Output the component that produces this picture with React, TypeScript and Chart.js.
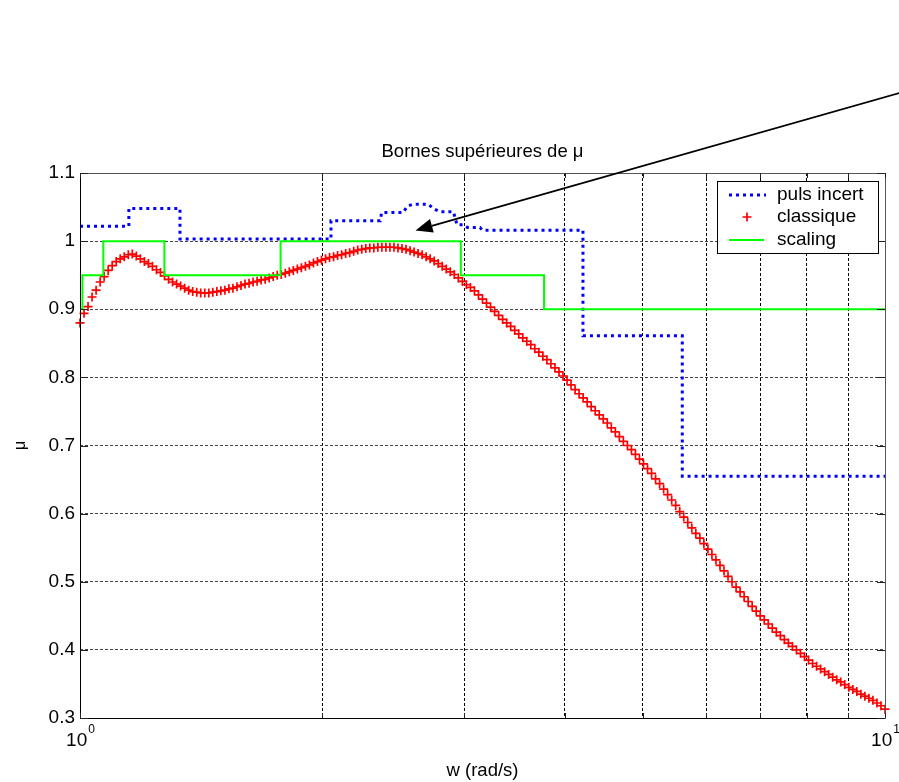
import React, { useEffect, useRef } from 'react';
import { Chart, registerables } from 'chart.js';

Chart.register(...registerables);

const FONT = '"Liberation Sans", Arial, Helvetica, sans-serif';

const titleText = 'Bornes supérieures de μ';
const xAxisLabel = 'w (rad/s)';
const yAxisLabel = 'μ';
const legendLabels = ['puls incert', 'classique', 'scaling'];

const yTickValues = [0.3, 0.4, 0.5, 0.6, 0.7, 0.8, 0.9, 1.0, 1.1];
const yTickLabels = ['0.3', '0.4', '0.5', '0.6', '0.7', '0.8', '0.9', '1', '1.1'];
const xGridValues = [1, 2, 3, 4, 5, 6, 7, 8, 9, 10];
const xTickValues = [1, 10];
const xTickBase = ['10', '10'];
const xTickExp = ['0', '1'];

// "puls incert" (staircase)
const pulsW = [1, 1.15, 1.15, 1.331, 1.331, 2.05, 2.05, 2.36, 2.37, 2.52, 2.55, 2.59, 2.71, 2.745, 2.80, 2.91, 2.94, 2.99, 3.03, 3.14, 3.16, 4.215, 4.215, 5.60, 5.60, 10];
const pulsMu = [1.022, 1.022, 1.048, 1.048, 1.003, 1.003, 1.030, 1.030, 1.042, 1.042, 1.051, 1.054, 1.054, 1.048, 1.043, 1.043, 1.024, 1.024, 1.020, 1.020, 1.016, 1.016, 0.861, 0.861, 0.655, 0.655];

// "scaling" (staircase)
const scalingW = [1, 1.007, 1.007, 1.069, 1.069, 1.273, 1.273, 1.775, 1.775, 2.972, 2.972, 3.771, 3.771, 10];
const scalingMu = [0.9, 0.9, 0.95, 0.95, 1.0, 1.0, 0.95, 0.95, 1.0, 1.0, 0.95, 0.95, 0.9, 0.9];

// "classique" values read on a log-spaced frequency grid from 1 to 10 rad/s
const classiqueMu = [
  0.880, 0.894, 0.904, 0.918, 0.928, 0.940, 0.948, 0.957, 0.964, 0.970,
  0.974, 0.977, 0.980, 0.981, 0.978, 0.974, 0.970, 0.967, 0.963, 0.958,
  0.954, 0.949, 0.944, 0.940, 0.937, 0.934, 0.931, 0.928, 0.926, 0.925,
  0.924, 0.924, 0.924, 0.925, 0.926, 0.927, 0.928, 0.930, 0.931, 0.933,
  0.935, 0.937, 0.938, 0.940, 0.941, 0.943, 0.944, 0.946, 0.948, 0.950,
  0.951, 0.953, 0.955, 0.957, 0.959, 0.961, 0.963, 0.965, 0.968, 0.970,
  0.972, 0.974, 0.976, 0.977, 0.979, 0.980, 0.982, 0.983, 0.985, 0.987,
  0.988, 0.989, 0.990, 0.990, 0.991, 0.991, 0.991, 0.991, 0.991, 0.990,
  0.989, 0.988, 0.986, 0.984, 0.982, 0.980, 0.977, 0.974, 0.971, 0.967,
  0.963, 0.959, 0.955, 0.951, 0.946, 0.941, 0.936, 0.932, 0.927, 0.921,
  0.915, 0.909, 0.903, 0.897, 0.891, 0.885, 0.880, 0.875, 0.869, 0.864,
  0.858, 0.853, 0.848, 0.842, 0.837, 0.831, 0.826, 0.820, 0.814, 0.808,
  0.802, 0.796, 0.789, 0.782, 0.776, 0.770, 0.764, 0.757, 0.751, 0.745,
  0.739, 0.733, 0.726, 0.720, 0.713, 0.706, 0.700, 0.694, 0.687, 0.680,
  0.673, 0.666, 0.659, 0.651, 0.644, 0.636, 0.628, 0.620, 0.612, 0.603,
  0.595, 0.587, 0.579, 0.571, 0.564, 0.556, 0.548, 0.540, 0.532, 0.524,
  0.516, 0.508, 0.500, 0.492, 0.485, 0.478, 0.471, 0.464, 0.457, 0.450,
  0.444, 0.438, 0.432, 0.426, 0.421, 0.415, 0.410, 0.405, 0.400, 0.395,
  0.390, 0.385, 0.380, 0.376, 0.372, 0.368, 0.364, 0.360, 0.356, 0.353,
  0.349, 0.345, 0.342, 0.339, 0.335, 0.332, 0.329, 0.326, 0.322, 0.318,
  0.313,
];
// frequency grid (logspace(0, 1, N)) on which the classique values were read
const classiqueW = classiqueMu.map((_, i) => Math.pow(10, i / (classiqueMu.length - 1)));

const toPoints = (xs: number[], ys: number[]) => xs.map((x, i) => ({ x, y: ys[i] }));

const extrasPlugin = {
  id: 'extras',
  afterDraw(chart: any) {
    const ctx = chart.ctx as CanvasRenderingContext2D;
    const { left, right, top, bottom } = chart.chartArea;
    const xs = chart.scales.x;
    const ys = chart.scales.y;
    ctx.save();

    // frame
    ctx.lineWidth = 1;
    ctx.strokeStyle = '#000';
    ctx.setLineDash([]);
    ctx.beginPath();
    ctx.moveTo(left + 0.5, top + 0.5);
    ctx.lineTo(left + 0.5, bottom + 0.5);
    ctx.lineTo(right + 0.5, bottom + 0.5);
    ctx.stroke();
    ctx.strokeStyle = '#555';
    ctx.beginPath();
    ctx.moveTo(left + 0.5, top + 0.5);
    ctx.lineTo(right + 0.5, top + 0.5);
    ctx.lineTo(right + 0.5, bottom + 0.5);
    ctx.stroke();

    // inner tick marks
    ctx.strokeStyle = '#222';
    ctx.beginPath();
    yTickValues.forEach((v) => {
      const y = Math.round(ys.getPixelForValue(v)) + 0.5;
      ctx.moveTo(left, y);
      ctx.lineTo(left + 8, y);
      ctx.moveTo(right, y);
      ctx.lineTo(right - 8, y);
    });
    xGridValues.forEach((v) => {
      const x = Math.round(xs.getPixelForValue(v)) + 0.5;
      ctx.moveTo(x, bottom);
      ctx.lineTo(x, bottom - 5);
      ctx.moveTo(x, top);
      ctx.lineTo(x, top + 5);
    });
    ctx.stroke();

    // x tick labels with superscripts
    ctx.fillStyle = '#000';
    ctx.textBaseline = 'alphabetic';
    ctx.textAlign = 'left';
    xTickValues.forEach((v, i) => {
      const x = xs.getPixelForValue(v);
      ctx.font = `19px ${FONT}`;
      const wb = ctx.measureText(xTickBase[i]).width;
      ctx.font = `12px ${FONT}`;
      const we = ctx.measureText(xTickExp[i]).width;
      const start = x - (wb + we) / 2;
      ctx.font = `19px ${FONT}`;
      ctx.fillText(xTickBase[i], start, 746);
      ctx.font = `12px ${FONT}`;
      ctx.fillText(xTickExp[i], start + wb + 1, 733);
    });

    // title and axis labels
    ctx.textAlign = 'center';
    ctx.textBaseline = 'middle';
    ctx.font = `18.5px ${FONT}`;
    ctx.fillText(titleText, (left + right) / 2, 152);
    ctx.fillText(xAxisLabel, (left + right) / 2, 771);
    ctx.save();
    ctx.translate(21, (top + bottom) / 2);
    ctx.rotate(-Math.PI / 2);
    ctx.font = `16px ${FONT}`;
    ctx.fillText(yAxisLabel, 0, 0);
    ctx.restore();

    // legend
    const lx = 717, ly = 181, lw = 161, lh = 72;
    ctx.fillStyle = '#fff';
    ctx.fillRect(lx, ly, lw, lh);
    ctx.strokeStyle = '#000';
    ctx.lineWidth = 1;
    ctx.strokeRect(lx + 0.5, ly + 0.5, lw, lh);
    const rowsY = [195, 217, 240];
    ctx.strokeStyle = '#0000ff';
    ctx.lineWidth = 3;
    ctx.setLineDash([3, 4]);
    ctx.beginPath();
    ctx.moveTo(729, rowsY[0]);
    ctx.lineTo(766, rowsY[0]);
    ctx.stroke();
    ctx.setLineDash([]);
    ctx.strokeStyle = '#ff0000';
    ctx.lineWidth = 1.7;
    ctx.beginPath();
    ctx.moveTo(747 - 4.5, rowsY[1]);
    ctx.lineTo(747 + 4.5, rowsY[1]);
    ctx.moveTo(747, rowsY[1] - 4.5);
    ctx.lineTo(747, rowsY[1] + 4.5);
    ctx.stroke();
    ctx.strokeStyle = '#00ff00';
    ctx.lineWidth = 2;
    ctx.beginPath();
    ctx.moveTo(729, rowsY[2]);
    ctx.lineTo(764, rowsY[2]);
    ctx.stroke();
    ctx.fillStyle = '#000';
    ctx.textAlign = 'left';
    ctx.font = `19px ${FONT}`;
    legendLabels.forEach((t, i) => ctx.fillText(t, 777, rowsY[i]));

    // annotation arrow
    const tip = { x: 415.5, y: 230.5 };
    const from = { x: 910, y: 90 };
    const dx = from.x - tip.x, dy = from.y - tip.y;
    const len = Math.hypot(dx, dy);
    const ux = dx / len, uy = dy / len;
    const hl = 17, hw = 7;
    const bx = tip.x + ux * hl, by = tip.y + uy * hl;
    ctx.strokeStyle = '#000';
    ctx.lineWidth = 1.8;
    ctx.beginPath();
    ctx.moveTo(from.x, from.y);
    ctx.lineTo(bx, by);
    ctx.stroke();
    ctx.fillStyle = '#000';
    ctx.beginPath();
    ctx.moveTo(tip.x, tip.y);
    ctx.lineTo(bx - uy * hw, by + ux * hw);
    ctx.lineTo(bx + uy * hw, by - ux * hw);
    ctx.closePath();
    ctx.fill();

    ctx.restore();
  },
};

export default function App() {
  const ref = useRef<HTMLCanvasElement | null>(null);
  useEffect(() => {
    if (!ref.current) return;
    const chart = new Chart(ref.current, {
      type: 'line',
      data: {
        datasets: [
          {
            label: legendLabels[0],
            data: toPoints(pulsW, pulsMu),
            borderColor: '#0000ff',
            backgroundColor: '#0000ff',
            borderWidth: 3,
            borderDash: [3, 4],
            borderCapStyle: 'butt',
            pointRadius: 0,
            tension: 0,
            clip: false,
            order: 3,
          },
          {
            label: legendLabels[1],
            data: toPoints(classiqueW, classiqueMu),
            showLine: false,
            borderColor: '#ff0000',
            backgroundColor: '#ff0000',
            pointStyle: 'cross',
            pointRadius: 4.5,
            pointBorderWidth: 1.7,
            pointBorderColor: '#ff0000',
            clip: false,
            order: 2,
          },
          {
            label: legendLabels[2],
            data: toPoints(scalingW, scalingMu),
            borderColor: '#00ff00',
            backgroundColor: '#00ff00',
            borderWidth: 2,
            pointRadius: 0,
            tension: 0,
            clip: false,
            order: 1,
          },
        ],
      } as any,
      options: {
        responsive: false,
        animation: false,
        devicePixelRatio: 1,
        layout: { padding: { left: 0, right: 14, top: 173, bottom: 0 } },
        plugins: {
          legend: { display: false },
          tooltip: { enabled: false },
          title: { display: false },
        },
        scales: {
          x: {
            type: 'logarithmic',
            min: 1,
            max: 10,
            position: 'bottom',
            ticks: { display: false, autoSkip: false },
            grid: { color: '#000', lineWidth: 1, drawTicks: false },
            border: { display: false, dash: [3, 2] },
            afterBuildTicks: (s: any) => { s.ticks = xGridValues.map((v) => ({ value: v })); },
            afterFit: (s: any) => { s.height = 64; },
          },
          y: {
            type: 'linear',
            min: 0.3,
            max: 1.1,
            position: 'left',
            ticks: {
              stepSize: 0.1,
              padding: 5,
              color: '#000',
              font: { family: FONT, size: 19 },
              callback: (v: any) => {
                const idx = yTickValues.findIndex((t) => Math.abs(t - Number(v)) < 1e-6);
                return idx >= 0 ? yTickLabels[idx] : '';
              },
            },
            grid: { color: '#444', lineWidth: 1, drawTicks: false },
            border: { display: false, dash: [3, 2] },
            afterFit: (s: any) => { s.width = 80; },
          },
        },
      } as any,
      plugins: [extrasPlugin],
    });
    return () => chart.destroy();
  }, []);
  return (
    <div style={{ position: 'fixed', left: 0, top: 0, width: 899, height: 782, background: '#fff' }}>
      <canvas ref={ref} width={899} height={782} style={{ display: 'block' }} />
    </div>
  );
}
